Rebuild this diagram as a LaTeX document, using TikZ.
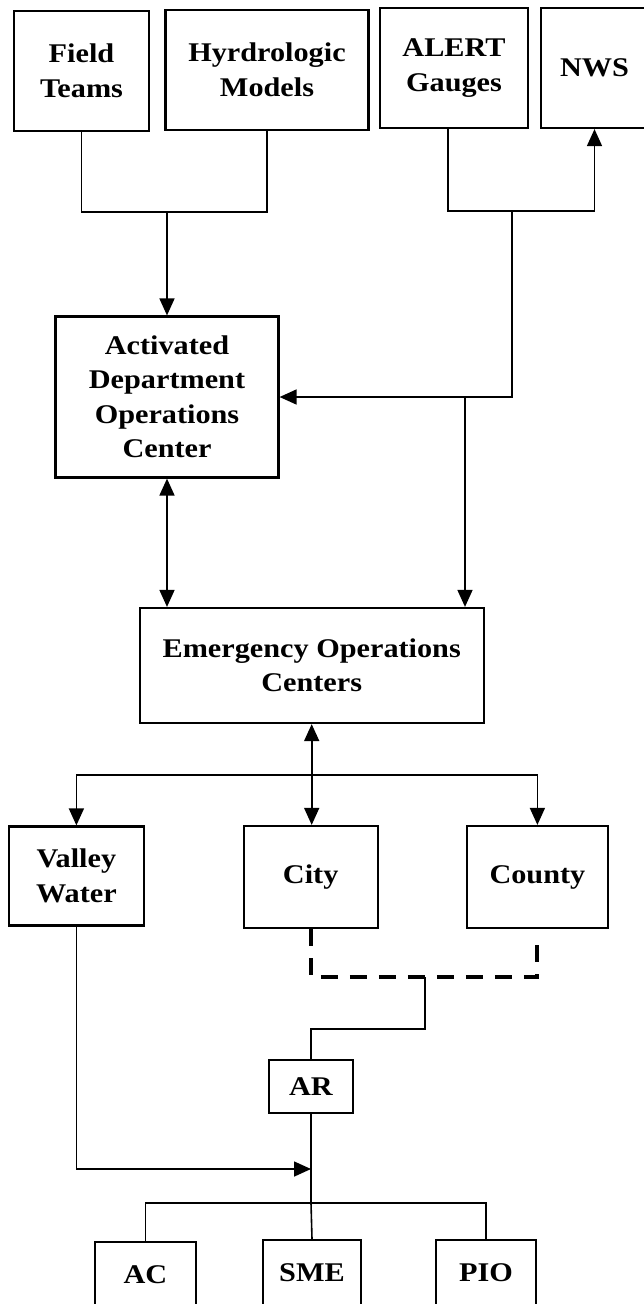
\documentclass[tikz,border=0pt]{standalone}
\usepackage{fontspec}
\setmainfont{Liberation Serif}[FakeStretch=1.12]
\usepackage{tikz}
\usetikzlibrary{arrows.meta}

\begin{document}
\begin{tikzpicture}[x=1pt,y=1pt,yscale=-1,
  blk/.style={draw,line width=2.2pt,inner sep=0pt,align=center,
    font=\fontsize{27}{34.5}\selectfont\bfseries},
  arr/.style={-{Triangle[length=17pt,width=15pt]}},
  dbl/.style={{Triangle[length=17pt,width=15pt]}-{Triangle[length=17pt,width=15pt]}},
  dashln/.style={line width=4pt,dash pattern=on 17pt off 12pt}]
\useasboundingbox (0,0) rectangle (644,1304);
\tikzset{every path/.append style={line width=1.6pt}}

%Boxes: top row
\node[blk,minimum width=135pt,minimum height=120pt] (field) at (81.5,71) {Field\\Teams};
\node[blk,minimum width=203pt,minimum height=120pt] (hydro) at (267,70) {Hyrdrologic\\Models};
\node[blk,minimum width=148pt,minimum height=120pt] (alert) at (454,68) {ALERT\\Gauges};
\node[blk,minimum width=107pt,minimum height=120pt] (nws) at (594.5,68) {NWS};
%Boxes: centers
\node[blk,minimum width=223pt,minimum height=161pt] (adoc) at (167,397) {Activated\\Department\\Operations\\Center};
\node[blk,minimum width=344pt,minimum height=115pt] (eoc) at (311.7,665.5) {Emergency Operations\\Centers};
%Boxes: agencies
\node[blk,minimum width=135pt,minimum height=99pt] (valley) at (76.4,876) {Valley\\Water};
\node[blk,minimum width=134pt,minimum height=102pt] (city) at (310.7,877) {City};
\node[blk,minimum width=141pt,minimum height=102pt] (county) at (537.4,877) {County};
%Boxes: bottom
\node[blk,minimum width=84pt,minimum height=53pt] (ar) at (311,1086.5) {AR};
\node[blk,minimum width=101pt,minimum height=66pt] (ac) at (145.5,1275) {AC};
\node[blk,minimum width=98pt,minimum height=66pt] (sme) at (312,1273) {SME};
\node[blk,minimum width=100pt,minimum height=66pt] (pio) at (486,1273) {PIO};

%Junctions
\coordinate (jfh) at (167,212);
\coordinate (jan) at (512,211);
\coordinate (jad) at (512,397);
\coordinate (jeo) at (465,397);
\coordinate (jsp) at (311,775);
\coordinate (jds) at (425,977);
\coordinate (jar) at (425,1029);
\coordinate (jvw) at (311,1169);
\coordinate (jbt) at (311,1203);

%Connectors
\draw (field.south) |- (jfh) -| (hydro.south);
\draw[arr] (jfh) -- (adoc.north);
\draw[arr] ([xshift=-6pt]alert.south) |- (jan) -| (nws.south);
\draw[arr] (jan) -- (jad) -- (adoc.east);
\draw[arr] (jeo) -- (jeo |- eoc.north);
\draw[dbl] (adoc.south) -- (adoc.south |- eoc.north);
\draw[dbl] (eoc.south) -- (eoc.south |- city.north);
\draw[arr] (jsp) -| (valley.north);
\draw[arr] (jsp) -| (county.north);
\draw[dashln] (city.south) |- (jds) -| ([yshift=13pt]county.south);
\draw (jds) -- (jar) -| (ar.north);
\draw (ar.south) -- (jbt);
\draw[arr] (valley.south) |- (jvw);
\draw (ac.north) |- (jbt) -| (pio.north);
\draw (jbt) -- (sme.north);

\end{tikzpicture}
\end{document}
